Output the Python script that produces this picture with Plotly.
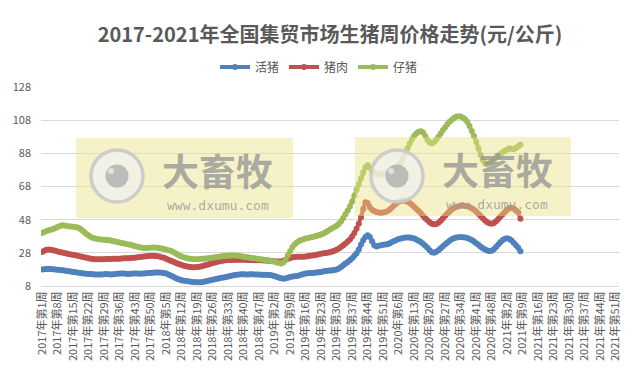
import plotly.graph_objects as go

# ---------------- data ----------------
years = [2017, 2018, 2019, 2020, 2021]
weeks_per_year = [52, 52, 52, 53, 52]
series_names = ["活猪", "猪肉", "仔猪"]
title_text = "2017-2021年全国集贸市场生猪周价格走势(元/公斤)"
y_ticks = [8, 28, 48, 68, 88, 108, 128]

hog_2017 = [18.0,18.1,18.2,18.3,18.2,18.1,18.0,17.8,17.6,17.5,17.3,17.1,16.9,16.7,16.5,16.3,16.1,15.9,15.7,15.5,
            15.4,15.3,15.2,15.1,15.0,15.0,14.9,15.0,15.1,15.2,15.1,15.0,15.1,15.3,15.4,15.5,15.6,15.5,15.4,15.3,
            15.4,15.5,15.6,15.5,15.4,15.5,15.6,15.7,15.8,15.9,16.0,16.1]
hog_2018 = [16.2,16.1,16.0,15.8,15.5,15.0,14.4,13.7,13.0,12.4,11.9,11.5,11.2,11.0,10.8,10.6,10.4,10.3,10.2,10.2,
            10.3,10.5,10.8,11.1,11.4,11.7,12.0,12.3,12.6,12.9,13.2,13.5,13.8,14.1,14.4,14.6,14.8,15.0,15.1,15.1,
            15.0,15.0,15.1,15.1,15.0,14.9,14.9,14.8,14.8,14.8,14.7,14.6]
hog_2019 = [14.4,14.0,13.5,13.0,12.6,12.4,12.6,13.0,13.4,13.7,13.9,14.1,14.4,14.8,15.2,15.5,15.7,15.8,15.9,16.0,
            16.1,16.3,16.5,16.7,17.0,17.2,17.3,17.4,17.6,18.0,18.6,19.5,20.5,21.5,22.5,23.5,24.8,26.2,27.7,30.0,
            33.0,35.6,37.5,38.6,37.5,35.0,32.5,31.8,32.2,32.6,32.8,33.0]
hog_2020 = [33.2,33.8,34.5,35.2,35.8,36.3,36.7,37.0,37.2,37.3,37.2,37.0,36.6,36.0,35.3,34.5,33.5,32.3,31.0,29.5,
            28.3,28.0,28.6,29.6,30.8,32.0,33.2,34.3,35.3,36.2,36.8,37.2,37.4,37.5,37.4,37.2,36.9,36.4,35.7,34.8,
            33.8,32.8,31.7,30.8,30.0,29.4,29.1,29.3,30.2,31.5,33.0,34.5,35.7]
hog_2021 = [36.5,36.8,36.4,35.5,34.0,32.5,31.0,29.0]

pork_2017 = [28.5,29.3,29.8,30.0,29.8,29.5,29.2,28.8,28.5,28.2,27.9,27.6,27.3,27.0,26.8,26.5,26.2,25.9,25.6,25.3,
             25.0,24.8,24.5,24.3,24.2,24.1,24.1,24.2,24.2,24.3,24.3,24.3,24.4,24.4,24.5,24.5,24.6,24.7,24.8,24.8,
             24.9,25.0,25.1,25.3,25.5,25.7,25.8,26.0,26.1,26.2,26.2,26.1]
pork_2018 = [26.0,25.8,25.4,25.0,24.5,23.9,23.3,22.7,22.1,21.6,21.1,20.6,20.2,19.9,19.6,19.4,19.3,19.3,19.4,19.6,
             19.9,20.2,20.6,21.0,21.4,21.8,22.2,22.6,22.9,23.2,23.4,23.6,23.7,23.7,23.7,23.8,23.8,23.9,23.9,23.8,
             23.8,23.7,23.7,23.7,23.6,23.6,23.5,23.5,23.4,23.4,23.3,23.2]
pork_2019 = [23.1,23.0,22.8,22.7,22.8,23.2,23.8,24.4,24.9,25.3,25.5,25.6,25.6,25.6,25.7,25.8,26.0,26.2,26.4,26.6,
             26.9,27.2,27.5,27.7,27.9,28.1,28.4,28.8,29.3,29.9,30.6,31.5,32.5,33.6,34.8,36.0,37.8,40.0,42.5,45.5,
             49.5,54.5,58.5,58.0,55.5,54.0,53.2,52.6,52.3,52.2,52.3,52.6]
pork_2020 = [53.2,54.2,55.4,56.7,57.9,58.8,59.3,59.5,59.3,58.8,58.0,57.0,55.8,54.5,53.2,51.8,50.3,48.9,47.6,46.5,
             45.6,45.2,45.4,46.2,47.4,48.8,50.3,51.7,53.0,54.1,55.0,55.7,56.1,56.4,56.5,56.4,56.1,55.6,54.9,54.0,
             52.9,51.6,50.2,48.8,47.5,46.5,45.8,45.6,46.0,47.0,48.4,49.9,51.3]
pork_2021 = [52.6,54.0,55.0,55.2,54.6,53.6,52.4,48.5]

piglet_2017 = [40.0,40.6,41.2,41.6,41.9,42.4,43.0,43.6,44.2,44.6,44.5,44.2,44.0,43.9,43.8,43.6,43.3,42.6,41.6,40.5,
               39.4,38.4,37.6,37.0,36.6,36.3,36.1,36.0,35.9,35.8,35.7,35.5,35.2,34.9,34.6,34.3,34.0,33.7,33.4,33.1,
               32.8,32.4,32.0,31.6,31.3,31.0,30.9,30.9,31.0,31.1,31.2,31.2]
piglet_2018 = [31.1,30.9,30.6,30.3,30.0,29.6,29.2,28.6,27.9,27.1,26.4,25.8,25.3,24.9,24.6,24.4,24.3,24.2,24.2,24.3,
               24.4,24.5,24.6,24.8,24.9,25.1,25.3,25.5,25.7,25.9,26.1,26.2,26.3,26.4,26.4,26.4,26.3,26.1,25.9,25.7,
               25.5,25.3,25.1,24.9,24.7,24.5,24.3,24.1,23.9,23.7,23.5,23.3]
piglet_2019 = [23.0,22.6,22.2,21.8,21.6,22.3,24.0,26.5,29.0,31.3,33.0,34.3,35.2,35.8,36.2,36.6,37.0,37.3,37.6,37.9,
               38.2,38.6,39.1,39.7,40.4,41.2,42.0,42.8,43.6,44.4,45.5,47.0,49.0,51.2,53.5,56.0,59.0,62.5,66.0,69.5,
               73.0,76.5,79.5,80.8,79.5,77.5,76.2,75.5,75.2,75.3,75.6,76.2]
piglet_2020 = [76.8,77.5,78.3,79.0,79.8,80.8,82.5,85.0,88.0,91.0,94.0,96.5,98.5,100.0,101.0,101.3,100.5,98.5,96.0,94.5,
               94.0,94.8,96.3,98.0,100.0,102.0,103.8,105.5,107.0,108.3,109.3,110.0,110.4,110.2,109.5,108.6,107.0,104.5,101.5,98.5,
               95.0,91.0,87.0,84.0,82.0,81.2,81.8,83.0,84.3,85.5,86.6,87.6,88.6]
piglet_2021 = [89.5,90.3,91.0,90.8,90.5,91.2,92.2,93.2]

# ---------------- build ----------------
categories = [f"{y}年第{w}周" for y, n in zip(years, weeks_per_year) for w in range(1, n + 1)]
tick_labels = categories[::7]

hog = hog_2017 + hog_2018 + hog_2019 + hog_2020 + hog_2021
pork = pork_2017 + pork_2018 + pork_2019 + pork_2020 + pork_2021
piglet = piglet_2017 + piglet_2018 + piglet_2019 + piglet_2020 + piglet_2021

colors = ["#4F81BD", "#C0504D", "#9BBB59"]
CJK = "Noto Sans CJK SC"
GRAY = "#595959"

W, H = 635, 373
L, R, T, B = 41, 16, 87, 87
PW, PH = W - L - R, H - T - B


def px(x):
    return (x - L) / PW


def py(y):
    return (H - B - y) / PH


fig = go.Figure()
for name, vals, c in zip(series_names, [hog, pork, piglet], colors):
    fig.add_trace(go.Scatter(
        x=categories[:len(vals)], y=vals, name=name, mode="lines+markers",
        line=dict(color=c, width=4), marker=dict(color=c, size=6),
    ))

shapes = []
annotations = []
# watermarks
for (bx0, by0, bx1, by1, cx, cy, tx, ty, uy) in [
    (76, 138, 293, 218, 117, 176, 218, 170, 205),
    (355, 137, 571, 216, 397, 176, 497, 169, 204),
]:
    shapes.append(dict(type="rect", xref="paper", yref="paper", layer="above",
                       x0=px(bx0), x1=px(bx1), y0=py(by1), y1=py(by0),
                       fillcolor="rgba(236,226,130,0.45)", line=dict(width=0)))
    r = 26
    shapes.append(dict(type="circle", xref="paper", yref="paper", layer="above",
                       x0=px(cx - r), x1=px(cx + r), y0=py(cy + r), y1=py(cy - r),
                       fillcolor="rgba(240,240,240,0.75)", line=dict(color="rgba(200,200,200,0.9)", width=3.5)))
    r2 = 11.5
    shapes.append(dict(type="circle", xref="paper", yref="paper", layer="above",
                       x0=px(cx - r2), x1=px(cx + r2), y0=py(cy + r2), y1=py(cy - r2),
                       fillcolor="rgba(170,170,170,0.75)", line=dict(width=0)))
    r3 = 3
    shapes.append(dict(type="circle", xref="paper", yref="paper", layer="above",
                       x0=px(cx - 6 - r3), x1=px(cx - 6 + r3), y0=py(cy - 5 + r3), y1=py(cy - 5 - r3),
                       fillcolor="rgba(235,235,235,0.8)", line=dict(width=0)))
    annotations.append(dict(xref="paper", yref="paper", x=px(tx), y=py(ty), text="大畜牧",
                            showarrow=False, xanchor="center", yanchor="middle",
                            font=dict(family=CJK, size=37, color="rgba(150,150,150,0.8)", weight="bold")))
    annotations.append(dict(xref="paper", yref="paper", x=px(tx), y=py(uy), text="www.dxumu.com",
                            showarrow=False, xanchor="center", yanchor="middle",
                            font=dict(family="DejaVu Sans Mono", size=13, color="rgba(150,150,150,0.8)")))

fig.update_layout(
    width=W, height=H,
    margin=dict(l=L, r=R, t=T, b=B, autoexpand=False),
    paper_bgcolor="white", plot_bgcolor="white",
    title=dict(text=title_text, x=330 / W, xref="container", xanchor="center",
               y=1 - 35 / H, yref="container", yanchor="middle", automargin=False,
               font=dict(family=CJK, size=20, color=GRAY, weight="bold")),
    legend=dict(orientation="h", xref="container", yref="container",
                x=319 / W, xanchor="center", y=1 - 67 / H, yanchor="middle",
                font=dict(family=CJK, size=12, color=GRAY), itemwidth=30),
    showlegend=True,
    shapes=shapes, annotations=annotations,
    xaxis=dict(type="category", categoryorder="array", categoryarray=categories,
               range=[-0.5, len(categories) - 0.5], automargin=False,
               tickmode="array", tickvals=tick_labels, ticktext=tick_labels,
               tickangle=-90, tickfont=dict(family=CJK, size=11, color=GRAY),
               showgrid=False, showline=True, linecolor="#D9D9D9", linewidth=1,
               ticks="", zeroline=False),
    yaxis=dict(range=[8, 128], tickmode="array", tickvals=y_ticks, automargin=False,
               tickfont=dict(family=CJK, size=11, color=GRAY),
               showgrid=True, gridcolor="#D9D9D9", gridwidth=1,
               showline=False, zeroline=False, ticklabelstandoff=9),
)

fig.write_html("out.html", config={"displayModeBar": False},
               post_script="document.body.style.margin='0px';document.body.style.overflow='hidden';")
